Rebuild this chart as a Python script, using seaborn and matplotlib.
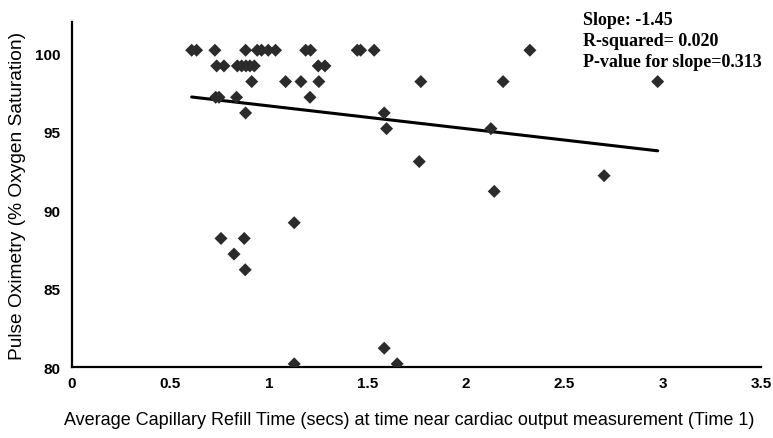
import numpy as np, pandas as pd
import matplotlib; matplotlib.use("Agg")
import matplotlib.pyplot as plt
import seaborn as sns

# capillary refill time (secs) vs pulse oximetry (%)
crt = [0.608, 0.633, 0.726, 0.882, 0.941, 0.963, 0.997, 1.034, 1.187, 1.212, 1.449, 1.466, 1.535, 2.326,
       0.735, 0.772, 0.840, 0.862, 0.884, 0.904, 0.926, 1.251, 1.285,
       0.913, 1.085, 1.163, 1.254, 1.772, 2.190, 2.975,
       0.730, 0.747, 0.836, 1.209,
       0.882, 1.586, 1.598, 2.128, 1.764, 2.703, 2.145,
       0.757, 0.875, 0.823, 0.880, 1.129, 1.129, 1.586, 1.652]
spo2 = [100.2]*14 + [99.2]*9 + [98.2]*7 + [97.2]*4 + \
       [96.2, 96.2, 95.2, 95.2, 93.1, 92.2, 91.2,
        88.2, 88.2, 87.2, 86.2, 89.2, 80.2, 81.2, 80.2]

SLOPE, INTERCEPT = -1.45, 98.10
r2, pval = 0.020, 0.313

df = pd.DataFrame({"crt": crt, "spo2": spo2})
fit = pd.DataFrame({"crt": [min(crt), max(crt)]})
fit["spo2"] = INTERCEPT + SLOPE * fit["crt"]

sns.set_style("white")
plt.rcParams["font.family"] = ["Liberation Sans", "DejaVu Sans"]
plt.rcParams.update({"text.color": "black", "axes.labelcolor": "black",
                     "xtick.color": "black", "ytick.color": "black"})

fig = plt.figure(figsize=(7.73, 4.39), dpi=100)
ax = fig.add_axes([0.0931, 0.1617, 0.8914, 0.7859])

sns.scatterplot(data=df, x="crt", y="spo2", ax=ax, marker="D", s=44,
                color="#2b2b2b", edgecolor="none", zorder=3)
sns.lineplot(data=fit, x="crt", y="spo2", ax=ax, color="black", lw=2.2, zorder=2)

ax.set_xlim(0, 3.5); ax.set_ylim(80, 102)
ax.set_xticks([0, 0.5, 1, 1.5, 2, 2.5, 3, 3.5])
ax.set_xticklabels(["0", "0.5", "1", "1.5", "2", "2.5", "3", "3.5"])
ax.set_yticks([80, 85, 90, 95, 100])
for lab in ax.get_xticklabels() + ax.get_yticklabels():
    lab.set_fontweight("bold"); lab.set_fontsize(11)
ax.tick_params(axis="both", direction="out", length=5, width=1.5, color="black")
ax.tick_params(axis="x", pad=1.5)
ax.tick_params(axis="y", pad=3)
sns.despine(ax=ax)
for s in ["left", "bottom"]:
    ax.spines[s].set_linewidth(1.6); ax.spines[s].set_color("black")

ax.set_xlabel("Average Capillary Refill Time (secs) at time near cardiac output measurement (Time 1)",
              fontsize=13)
ax.set_ylabel("Pulse Oximetry (% Oxygen Saturation)", fontsize=13.8)
ax.xaxis.set_label_coords(0.49, -0.128)
ax.yaxis.set_label_coords(-0.066, 0.5)

fig.text(0.754, 0.972, f"Slope: {SLOPE:.2f}\nR-squared= {r2:.3f}\nP-value for slope={pval:.3f}",
         family=["Liberation Serif", "DejaVu Serif"], fontweight="bold", fontsize=13,
         va="top", ha="left", linespacing=1.28)

fig.savefig("out.png", dpi=100)
